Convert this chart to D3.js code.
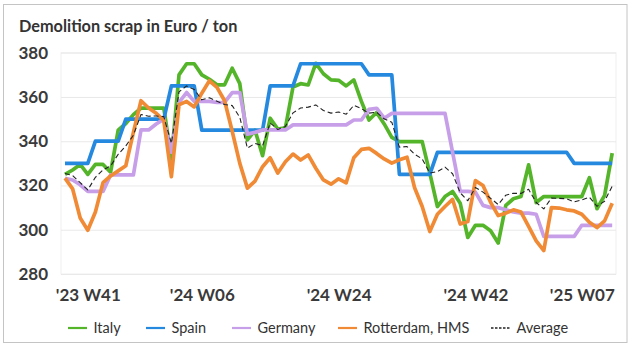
<!DOCTYPE html>
<html><head><meta charset="utf-8">
<script src="https://cdnjs.cloudflare.com/ajax/libs/d3/7.8.5/d3.min.js"></script>
<style>
html,body{margin:0;padding:0;background:#fff;}
svg{display:block;font-family:Lato,"Open Sans",sans-serif;}
</style></head>
<body><svg id="chart" width="632" height="349"></svg>
<script>
const title = "Demolition scrap in Euro / ton";
const categories = [
"'23 W38","'23 W39","'23 W40","'23 W41","'23 W42","'23 W43","'23 W44","'23 W45","'23 W46","'23 W47","'23 W48","'23 W49","'23 W50","'23 W51",
"'24 W02","'24 W03","'24 W04","'24 W05","'24 W06","'24 W07","'24 W08","'24 W09","'24 W10","'24 W11","'24 W12","'24 W13","'24 W14","'24 W15","'24 W16","'24 W17",
"'24 W18","'24 W19","'24 W20","'24 W21","'24 W22","'24 W23","'24 W24","'24 W25","'24 W26","'24 W27","'24 W28","'24 W29","'24 W30","'24 W31","'24 W32","'24 W33",
"'24 W34","'24 W35","'24 W36","'24 W37","'24 W38","'24 W39","'24 W40","'24 W41","'24 W42","'24 W43","'24 W44","'24 W45","'24 W46","'24 W47","'24 W48","'24 W49",
"'24 W50","'24 W51","'25 W03","'25 W04","'25 W05","'25 W06","'25 W07","'25 W08","'25 W09","'25 W10","'25 W11"];
const xTickLabels = ["'23 W41","'24 W06","'24 W24","'24 W42","'25 W07"];
const yTicks = [280,300,320,340,360,380];

const italy = [325,327,329.5,325,329.5,329.5,326,345,348,352,
355,355,355,355,332,370,375,375,370,368,
365.5,365.5,373,366,340.6,345,333.5,350.4,345.5,346,
364.5,366,365.4,375.2,370.5,367.7,367.5,365,367.7,358,
349.6,353,347.8,341.7,339.8,339.8,339.8,339.8,325.6,310.5,
315,317.3,312,296.5,302,302,299.5,294,311,314,
315,329.3,312.3,315,315,315,315,315,315,323.5,
309.5,315.5,334.6];
const spain = [330,330,330,330,340,340,340,340,350,350,
350,350,350,350,365,365,365,365,345,345,
345,345,345,345,345,345,345,365,365,365,
365,375,375,375,375,375,375,375,375,375,
370,370,370,370,325,325,325,325,325,335,
335,335,335,335,335,335,335,335,335,335,
335,335,335,335,335,335,335,330,330,330,
330,330,330];
const germany = [323.3,322.5,320.3,317.3,317.3,317.3,324.8,324.8,324.8,324.8,
345.1,345.1,347.8,350,335,357.5,362,358,358,358,
357.5,357.5,362,362,343.2,344,345.1,345.1,345.1,345.1,
347.4,347.4,347.4,347.4,347.4,347.4,347.4,347.4,349.6,349.6,
354.4,354.9,350.4,352.6,352.6,352.6,352.6,352.6,352.6,352.6,
352.6,335,317.3,317.3,317,311,310,310,309,308,
307.5,307.5,307,297,297,297,297,297,302,302,
302,302,302];
const rotterdam = [323.3,318.5,305.3,299.8,308,321.3,324.3,326.6,328.9,344,
358.3,355,352.6,349.4,324,356.5,358,355.5,361.7,367.3,
364.3,358.3,344.5,330,318.8,322,328.5,332.5,325.6,330.7,
334.2,331.5,333.8,327.8,322.5,320.6,323,321.2,332.5,336.3,
336.8,334.5,332,330.1,331.6,332.8,319,310.5,299.2,307,
310.5,313.7,302.6,303.7,322.2,320,312.4,306.4,307.5,309,
308,301.5,295,290.6,310,309.8,309,308.5,307,303.4,
301,304,312];
const average = [325.4,324.5,321.3,318.0,323.7,327.0,328.8,334.1,337.9,342.7,
352.1,351.3,351.4,351.1,339.0,362.3,365.0,363.4,358.7,359.6,
358.1,356.6,356.1,350.8,336.9,339.0,338.0,348.3,345.3,346.7,
352.8,355.0,355.4,356.4,353.9,352.7,353.2,352.2,356.2,354.7,
352.7,353.1,350.1,348.6,337.3,337.6,334.1,332.0,325.6,326.3,
328.3,325.3,316.7,313.1,319.1,317.0,314.2,311.4,315.6,316.5,
316.4,318.3,312.3,309.4,314.3,314.2,314.0,312.6,313.5,314.7,
310.6,312.9,319.7];

const seriesNames = ["Italy","Spain","Germany","Rotterdam, HMS","Average"];
const seriesColors = ["#55b52a","#2589df","#c79fe9","#f08a35","#222222"];
const seriesData = [italy,spain,germany,rotterdam,average];

const svg = d3.select("#chart");

// outer frame
svg.append("rect").attr("x",3.5).attr("y",4.5).attr("width",623.5).attr("height",338)
  .attr("fill","#fff").attr("stroke","#c4c4c4").attr("stroke-width",1);

svg.append("text").attr("x",19).attr("y",32).text(title)
  .attr("font-weight","bold").attr("font-size",16.3).attr("fill","#333");

const x = d3.scalePoint().domain(categories).range([65,612.2]);
const y = d3.scaleLinear().domain([280,380]).range([274,52.7]);

// plot area
svg.append("rect").attr("x",61).attr("y",52.7).attr("width",555).attr("height",221.3)
  .attr("fill","none").attr("stroke","#efefef");

const yAxis = d3.axisLeft(y).tickValues(yTicks).tickSize(-555).tickPadding(13).tickFormat(d3.format("d"));
const gy = svg.append("g").attr("transform","translate(61,0)").call(yAxis);
gy.select(".domain").remove();
gy.selectAll(".tick line").attr("stroke","#e9e9e9");
gy.selectAll(".tick text").attr("font-size",17).attr("font-weight","bold").attr("fill","#3a3a3a")
  .attr("font-family","Lato,sans-serif");

const xAxis = d3.axisBottom(x).tickValues(xTickLabels).tickSize(0).tickPadding(15);
const gx = svg.append("g").attr("transform","translate(0,274)").call(xAxis);
gx.select(".domain").remove();
gx.selectAll(".tick text").attr("font-size",17).attr("font-weight","bold").attr("fill","#3a3a3a")
  .attr("font-family","Lato,sans-serif");

const line = d3.line().x((d,i)=>x(categories[i])).y(d=>y(d));
seriesData.forEach((data,k)=>{
  const p = svg.append("path").datum(data).attr("d",line).attr("fill","none")
    .attr("stroke",seriesColors[k]).attr("stroke-linejoin","round");
  if(k===4){ p.attr("stroke-width",1.1).attr("stroke-dasharray","5,3"); }
  else { p.attr("stroke-width",3.7); }
});

// legend
const legendX = [68,146,232,338,491];
const lg = svg.append("g").attr("transform","translate(0,328)");
seriesNames.forEach((n,k)=>{
  const g = lg.append("g").attr("transform",`translate(${legendX[k]},0)`);
  const l = g.append("line").attr("x1",0).attr("x2",19).attr("y1",0).attr("y2",0)
    .attr("stroke",seriesColors[k]);
  if(k===4) l.attr("stroke-width",1.5).attr("stroke-dasharray","2.5,1.5");
  else l.attr("stroke-width",2.2);
  g.append("text").attr("x",25.5).attr("y",5).text(n).attr("font-size",14.5).attr("fill","#333");
});
</script></body></html>
